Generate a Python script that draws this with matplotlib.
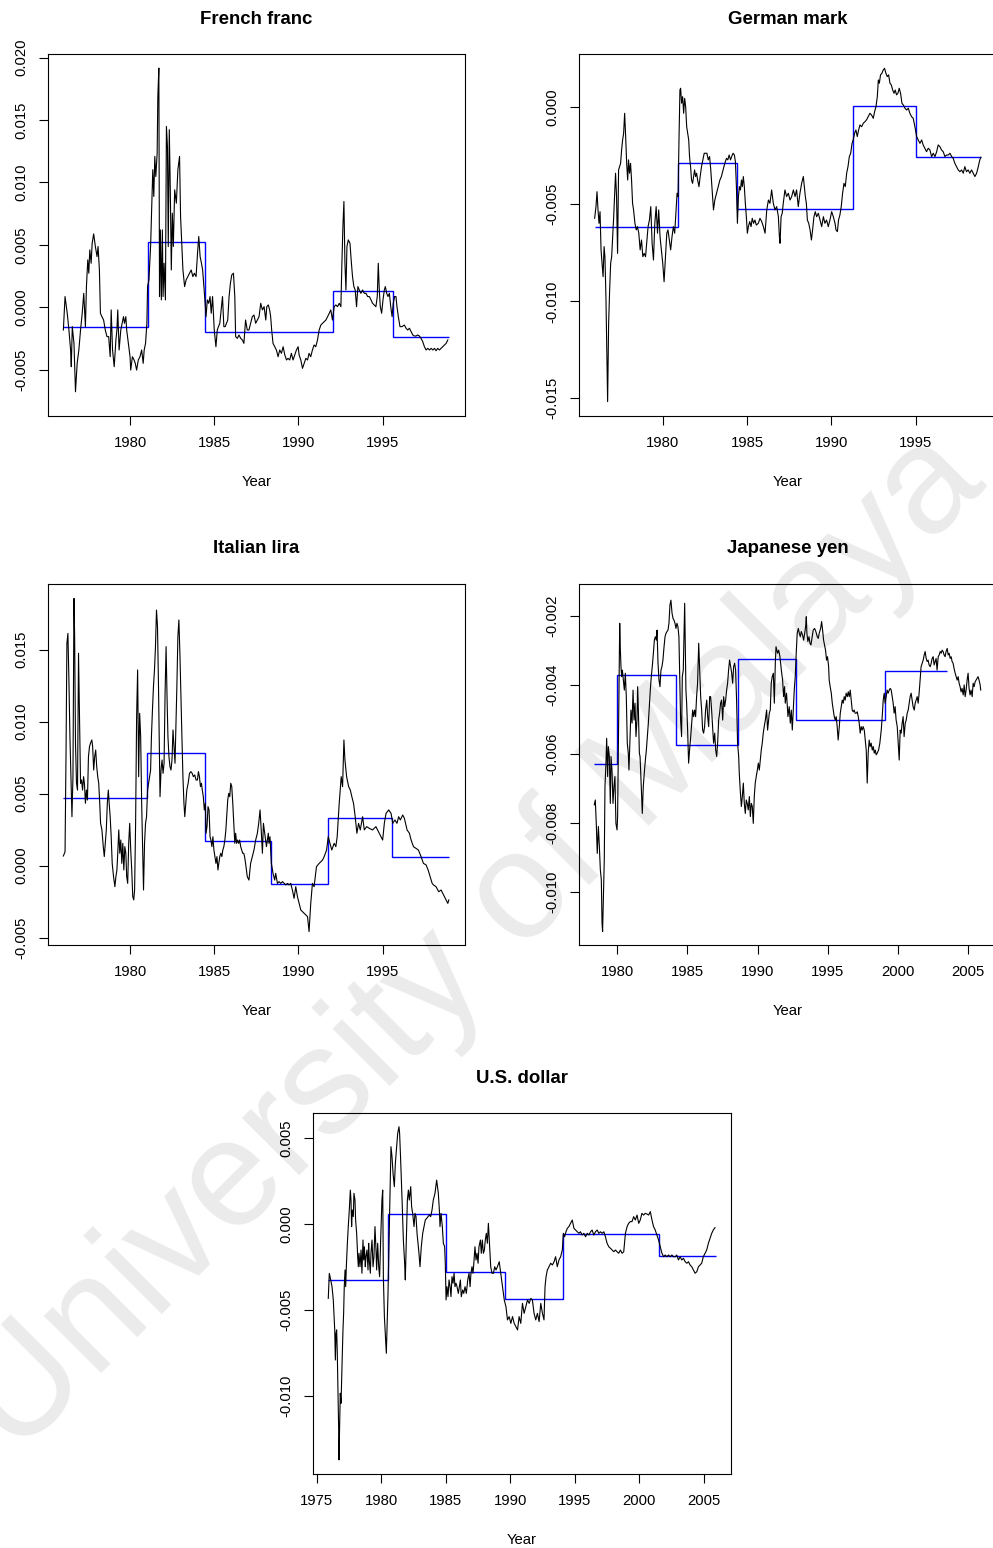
import numpy as np
import matplotlib
matplotlib.use("Agg")
import matplotlib.pyplot as plt

plt.rcParams['font.family'] = ['Liberation Sans', 'DejaVu Sans']
plt.rcParams['axes.unicode_minus'] = False

PERMIL = 1e-3  # series values below are given in units of 0.001

# ---------------- French franc ----------------
ff_year = [1976.04, 1976.14, 1976.27, 1976.37, 1976.47, 1976.51, 1976.57, 1976.67, 1976.76, 1976.86,
           1976.96, 1977.06, 1977.16, 1977.25, 1977.35, 1977.41, 1977.49, 1977.55, 1977.61, 1977.69,
           1977.75, 1977.84, 1977.94, 1978.04, 1978.10, 1978.18, 1978.24, 1978.33, 1978.43, 1978.53,
           1978.63, 1978.73, 1978.82, 1978.88, 1978.96, 1979.06, 1979.16, 1979.22, 1979.27, 1979.35,
           1979.45, 1979.53, 1979.61, 1979.67, 1979.75, 1979.80, 1979.90, 1980.00, 1980.04, 1980.14,
           1980.24, 1980.31, 1980.39, 1980.49, 1980.59, 1980.69, 1980.78, 1980.84, 1980.92, 1981.00,
           1981.04, 1981.12, 1981.22, 1981.27, 1981.35, 1981.41, 1981.47, 1981.53, 1981.61, 1981.65,
           1981.71, 1981.75, 1981.80, 1981.86, 1981.92, 1981.96, 1982.02, 1982.10, 1982.16, 1982.22,
           1982.27, 1982.33, 1982.39, 1982.45, 1982.51, 1982.57, 1982.65, 1982.75, 1982.84, 1982.94,
           1983.00, 1983.08, 1983.14, 1983.24, 1983.33, 1983.43, 1983.53, 1983.63, 1983.73, 1983.82,
           1983.92, 1984.02, 1984.08, 1984.16, 1984.24, 1984.31, 1984.37, 1984.43, 1984.51, 1984.59,
           1984.67, 1984.75, 1984.82, 1984.90, 1985.00, 1985.10, 1985.18, 1985.25, 1985.33, 1985.41,
           1985.49, 1985.57, 1985.65, 1985.73, 1985.80, 1985.88, 1985.96, 1986.04, 1986.14, 1986.22,
           1986.27, 1986.37, 1986.47, 1986.57, 1986.67, 1986.76, 1986.86, 1986.96,
           1987.06, 1987.16, 1987.26, 1987.36, 1987.46, 1987.56, 1987.66, 1987.76, 1987.86, 1987.96,
           1988.06, 1988.12, 1988.21, 1988.29, 1988.35, 1988.41, 1988.49, 1988.59, 1988.69, 1988.79,
           1988.89, 1988.99, 1989.09, 1989.19, 1989.29, 1989.38, 1989.48, 1989.58, 1989.68, 1989.78,
           1989.88, 1989.98, 1990.04, 1990.14, 1990.24, 1990.34, 1990.44, 1990.54, 1990.63, 1990.73,
           1990.83, 1990.93, 1991.03, 1991.13, 1991.23, 1991.33, 1991.43, 1991.53, 1991.63, 1991.73,
           1991.83, 1991.92, 1992.02, 1992.12, 1992.22, 1992.32, 1992.42, 1992.52, 1992.58, 1992.64,
           1992.70, 1992.76, 1992.82, 1992.88, 1992.96, 1993.06, 1993.13, 1993.21, 1993.29, 1993.37,
           1993.45, 1993.53, 1993.61, 1993.71, 1993.81, 1993.91, 1994.01, 1994.11, 1994.21, 1994.31,
           1994.40, 1994.50, 1994.60, 1994.68, 1994.74, 1994.80, 1994.86, 1994.94, 1995.02, 1995.10,
           1995.16, 1995.24, 1995.32, 1995.40, 1995.48, 1995.56, 1995.63, 1995.71, 1995.79, 1995.85,
           1995.93, 1996.03, 1996.15, 1996.29, 1996.39, 1996.49, 1996.59, 1996.69, 1996.79, 1996.88,
           1996.98, 1997.08, 1997.18, 1997.28, 1997.38, 1997.48, 1997.58, 1997.68, 1997.78, 1997.88,
           1997.98, 1998.08, 1998.17, 1998.27, 1998.37, 1998.47, 1998.57, 1998.67, 1998.77, 1998.87]
ff_value = [-1.82, 0.86, -0.48, -1.82, -3.42, -4.76, -1.55, -2.89, -6.77, -4.49,
            -3.42, -1.82, -0.48, 1.12, -1.55, 1.66, 3.80, 2.73, 4.60, 3.53,
            5.13, 5.88, 4.87, 4.06, 4.87, 2.99, -0.48, -0.75, -1.02, -1.82,
            -2.35, -2.35, -3.96, -0.21, -3.42, -4.76, -2.62, -1.82, -0.21, -3.42,
            -1.82, -1.28, -0.75, -1.28, -0.75, -1.82, -2.89, -3.96, -5.03, -3.96,
            -4.22, -4.49, -5.03, -4.22, -3.96, -3.42, -4.49, -3.42, -2.89, -1.28,
            1.66, 2.19, 4.87, 7.27, 11.02, 8.88, 12.09, 10.48, 12.35, 16.90,
            19.17, 0.86, 6.20, 0.59, 6.20, 0.86, 3.53, 0.59, 14.49, 12.89,
            4.87, 14.23, 9.41, 2.99, 7.54, 4.87, 9.41, 8.34, 11.02, 12.09,
            7.27, 4.87, 2.99, 1.66, 2.19, 2.46, 2.73, 2.99, 2.46, 2.73,
            2.46, 4.60, 5.67, 4.06, 3.53, 2.99, 1.93, 0.86, -0.75, 0.59,
            0.32, 0.86, -0.48, 0.86, -1.82, -3.16, -1.82, -1.55, -1.28, -0.21,
            0.86, -1.55, -1.55, -1.28, -1.02, 0.86, 1.93, 2.59, 2.73, 0.86,
            -2.35, -2.49, -2.22, -2.49, -2.62, -2.89, -1.02, -1.82,
            -1.82, -1.28, -0.75, -0.62, -1.28, -1.02, -0.75, 0.32, -0.21, 0.05,
            -1.02, 0.05, 0.19, -0.21, -0.75, -1.82, -2.89, -3.16, -3.42, -3.96,
            -3.42, -3.69, -3.16, -3.82, -4.22, -4.09, -4.22, -3.69, -4.22, -3.82,
            -3.42, -3.16, -3.82, -4.22, -4.89, -4.49, -4.09, -4.22, -3.69, -3.96,
            -3.42, -3.02, -3.16, -2.62, -1.82, -1.42, -1.28, -1.15, -1.02, -0.75,
            -0.48, -0.21, -1.02, 0.05, 0.19, 0.05, 0.32, 0.05, 3.53, 6.47,
            8.48, 3.53, 1.39, 4.87, 5.40, 5.13, 3.80, 2.46, 1.66, 1.39,
            0.05, 1.66, 1.39, 1.12, 1.39, 1.12, 1.12, 0.86, 0.86, 0.59,
            0.32, 0.19, 0.05, 0.86, 3.53, 1.39, 0.05, -0.48, 0.59, 1.39,
            1.66, 1.12, 0.86, 1.12, 0.05, -0.75, 0.32, 0.86, 0.86, 0.05,
            -0.75, -1.55, -1.55, -1.42, -1.68, -1.82, -1.68, -1.95, -2.22, -2.30,
            -2.30, -2.22, -2.30, -2.49, -2.75, -3.16, -3.42, -3.29, -3.42, -3.29,
            -3.42, -3.29, -3.48, -3.29, -3.42, -3.29, -3.16, -3.02, -2.89, -2.62]
ff_regime_edges = [1976.04, 1981.04, 1984.43, 1992.07, 1995.60, 1998.96]
ff_regime_mean = [-1.60, 5.21, -2.01, 1.34, -2.35]

# ---------------- German mark ----------------
gm_year = [1975.96, 1976.04, 1976.10, 1976.16, 1976.22, 1976.28, 1976.34, 1976.40, 1976.46, 1976.52,
           1976.57, 1976.63, 1976.69, 1976.73, 1976.79, 1976.85, 1976.91, 1976.97, 1977.03, 1977.09,
           1977.15, 1977.20, 1977.26, 1977.32, 1977.38, 1977.44, 1977.50, 1977.56, 1977.62, 1977.68,
           1977.74, 1977.80, 1977.86, 1977.92, 1977.97, 1978.03, 1978.09, 1978.15, 1978.21, 1978.27,
           1978.35, 1978.43, 1978.50, 1978.58, 1978.66, 1978.74, 1978.82, 1978.90, 1978.98, 1979.06,
           1979.13, 1979.21, 1979.29, 1979.37, 1979.45, 1979.53, 1979.61, 1979.69, 1979.76, 1979.84,
           1979.92, 1980.00, 1980.08, 1980.16, 1980.24, 1980.31, 1980.39, 1980.47, 1980.55, 1980.63,
           1980.71, 1980.79, 1980.85, 1980.91, 1980.96, 1981.02, 1981.06, 1981.12, 1981.18, 1981.24,
           1981.30, 1981.36, 1981.42, 1981.48, 1981.54, 1981.59, 1981.65, 1981.71, 1981.77, 1981.83,
           1981.89, 1981.95, 1982.01, 1982.07, 1982.15, 1982.22, 1982.30, 1982.38, 1982.46, 1982.54,
           1982.62, 1982.70, 1982.78, 1982.85, 1982.93, 1983.01, 1983.09, 1983.19, 1983.29, 1983.39,
           1983.48, 1983.58, 1983.68, 1983.78, 1983.86, 1983.94, 1984.02, 1984.09, 1984.17, 1984.25,
           1984.31, 1984.37, 1984.43, 1984.49, 1984.55, 1984.61, 1984.67, 1984.72, 1984.78, 1984.84,
           1984.90, 1984.96, 1985.02, 1985.08, 1985.16, 1985.24, 1985.31, 1985.39, 1985.47, 1985.55,
           1985.67, 1985.77, 1985.87, 1985.97, 1986.07, 1986.17, 1986.27, 1986.36, 1986.46, 1986.56,
           1986.66, 1986.76, 1986.86, 1986.92, 1986.96, 1987.02, 1987.09, 1987.15, 1987.25, 1987.35,
           1987.45, 1987.55, 1987.65, 1987.75, 1987.85, 1987.94, 1988.04, 1988.14, 1988.24, 1988.34,
           1988.40, 1988.46, 1988.52, 1988.58, 1988.66, 1988.74, 1988.82, 1988.89, 1988.97, 1989.05,
           1989.13, 1989.23, 1989.33, 1989.43, 1989.53, 1989.62, 1989.72, 1989.82, 1989.92, 1990.02,
           1990.12, 1990.22, 1990.28, 1990.36, 1990.43, 1990.51, 1990.59, 1990.67, 1990.75, 1990.83,
           1990.91, 1990.99, 1991.07, 1991.15, 1991.23, 1991.30, 1991.38, 1991.46, 1991.54, 1991.62,
           1991.70, 1991.80, 1991.90, 1992.00, 1992.09, 1992.19, 1992.29, 1992.39, 1992.49, 1992.57,
           1992.65, 1992.73, 1992.79, 1992.85, 1992.92, 1993.00, 1993.08, 1993.16, 1993.24, 1993.32,
           1993.40, 1993.48, 1993.56, 1993.64, 1993.72, 1993.79, 1993.87, 1993.95, 1994.03, 1994.11,
           1994.19, 1994.27, 1994.37, 1994.47, 1994.57, 1994.66, 1994.76, 1994.86, 1994.96, 1995.06,
           1995.16, 1995.26, 1995.36, 1995.45, 1995.55, 1995.65, 1995.75, 1995.85, 1995.95, 1996.05,
           1996.15, 1996.25, 1996.34, 1996.44, 1996.54, 1996.64, 1996.74, 1996.84, 1996.94, 1997.04,
           1997.14, 1997.23, 1997.33, 1997.43, 1997.53, 1997.63, 1997.73, 1997.83, 1997.92, 1998.02,
           1998.12, 1998.22, 1998.32, 1998.42, 1998.52, 1998.62, 1998.72, 1998.81, 1998.87]
gm_value = [-5.72, -5.12, -4.35, -5.29, -5.98, -5.38, -7.35, -8.04, -8.73, -7.18,
            -7.70, -9.76, -13.20, -15.17, -11.13, -9.42, -8.04, -7.70, -6.67, -5.64,
            -4.43, -3.40, -4.60, -7.53, -3.23, -3.06, -2.89, -2.20, -1.68, -1.34,
            -0.31, -1.51, -2.89, -3.75, -2.71, -3.40, -2.89, -3.75, -4.95, -5.29,
            -5.98, -6.32, -6.15, -6.49, -7.35, -6.84, -7.70, -7.53, -7.70, -6.84,
            -6.15, -5.81, -5.12, -7.01, -7.87, -5.98, -5.12, -6.49, -5.29, -6.67,
            -7.35, -8.04, -8.99, -7.70, -6.49, -6.32, -6.84, -7.35, -6.67, -6.15,
            -6.49, -5.29, -4.43, -4.60, -1.86, 0.89, 0.98, 0.21, 0.55, -0.31,
            0.46, 0.03, -1.00, -1.34, -1.68, -2.54, -3.06, -3.75, -3.92, -3.57,
            -3.23, -3.57, -3.40, -3.75, -4.09, -3.57, -3.06, -2.71, -2.37, -2.37,
            -2.37, -2.71, -2.54, -3.23, -4.26, -5.29, -4.78, -4.43, -4.09, -3.75,
            -3.57, -3.23, -2.89, -2.63, -2.71, -2.46, -2.71, -2.54, -2.37, -2.46,
            -2.80, -4.09, -5.98, -4.60, -4.09, -4.26, -3.75, -4.09, -3.57, -4.09,
            -4.95, -5.64, -6.49, -6.15, -5.89, -6.15, -5.72, -5.98, -5.81, -6.07,
            -5.98, -5.72, -5.89, -6.15, -6.49, -5.29, -4.78, -4.95, -4.26, -4.95,
            -5.29, -5.12, -5.64, -6.67, -7.01, -5.64, -5.46, -4.95, -4.26, -4.60,
            -4.43, -4.78, -4.60, -4.26, -4.60, -4.26, -5.12, -4.43, -3.92, -3.57,
            -4.09, -4.60, -4.95, -5.81, -5.98, -6.32, -6.84, -6.32, -5.64, -5.38,
            -5.64, -5.46, -5.81, -6.15, -5.64, -5.98, -5.81, -6.15, -5.81, -5.38,
            -5.64, -5.98, -6.32, -6.41, -5.81, -5.55, -5.12, -4.43, -3.92, -4.09,
            -3.40, -3.06, -2.54, -2.37, -1.86, -1.68, -1.34, -1.17, -1.51, -1.17,
            -0.91, -1.00, -0.82, -0.74, -0.65, -0.48, -0.31, -0.40, -0.57, -0.22,
            0.03, 0.55, 1.41, 1.24, 1.67, 1.75, 1.92, 2.01, 1.75, 1.58,
            1.67, 1.24, 1.15, 0.89, 0.72, 0.89, 0.64, 0.72, 0.98, 0.72,
            0.21, 0.12, -0.05, -0.14, -0.05, -0.31, -0.48, -0.57, -1.00, -1.51,
            -1.68, -1.86, -1.68, -1.94, -2.11, -2.29, -2.11, -2.20, -2.54, -2.37,
            -2.54, -2.29, -1.94, -2.03, -2.20, -2.29, -2.54, -2.46, -2.46, -2.37,
            -2.54, -2.63, -2.89, -3.06, -3.23, -3.32, -3.23, -3.40, -3.06, -3.32,
            -3.23, -3.40, -3.23, -3.40, -3.57, -3.40, -3.06, -2.71, -2.58]
gm_regime_edges = [1975.96, 1980.93, 1984.41, 1991.26, 1995.00, 1998.91]
gm_regime_mean = [-6.19, -2.85, -5.26, 0.09, -2.58]

# ---------------- Italian lira ----------------
il_year = [1976.04, 1976.14, 1976.20, 1976.25, 1976.31, 1976.37, 1976.43, 1976.49, 1976.55, 1976.61,
           1976.67, 1976.71, 1976.76, 1976.82, 1976.88, 1976.94, 1977.00, 1977.06, 1977.12, 1977.18,
           1977.24, 1977.29, 1977.35, 1977.41, 1977.47, 1977.53, 1977.59, 1977.65, 1977.73, 1977.78,
           1977.84, 1977.90, 1977.96, 1978.02, 1978.08, 1978.14, 1978.20, 1978.25, 1978.33, 1978.41,
           1978.47, 1978.53, 1978.59, 1978.65, 1978.71, 1978.76, 1978.82, 1978.88, 1978.94, 1979.02,
           1979.10, 1979.16, 1979.22, 1979.27, 1979.33, 1979.39, 1979.45, 1979.51, 1979.57, 1979.63,
           1979.69, 1979.75, 1979.80, 1979.86, 1979.92, 1979.98, 1980.04, 1980.10, 1980.16, 1980.22,
           1980.27, 1980.33, 1980.39, 1980.45, 1980.51, 1980.57, 1980.63, 1980.69, 1980.75, 1980.80,
           1980.86, 1980.92, 1980.98, 1981.04, 1981.10, 1981.16, 1981.22, 1981.27, 1981.33, 1981.39,
           1981.45, 1981.51, 1981.57, 1981.63, 1981.69, 1981.75, 1981.78, 1981.84, 1981.90, 1981.96,
           1982.02, 1982.08, 1982.14, 1982.20, 1982.25, 1982.31, 1982.37, 1982.43, 1982.49, 1982.55,
           1982.61, 1982.67, 1982.73, 1982.78, 1982.84, 1982.90, 1982.96, 1983.02, 1983.08, 1983.14,
           1983.20, 1983.25, 1983.31, 1983.37, 1983.45, 1983.53, 1983.61, 1983.69, 1983.76, 1983.84,
           1983.92, 1984.00, 1984.06, 1984.12, 1984.18, 1984.24, 1984.29, 1984.35, 1984.41, 1984.47,
           1984.51, 1984.57, 1984.63, 1984.69, 1984.75, 1984.80, 1984.86, 1984.92, 1984.98, 1985.04,
           1985.10, 1985.16, 1985.22, 1985.27, 1985.33, 1985.39, 1985.45, 1985.51, 1985.57, 1985.63,
           1985.69, 1985.75, 1985.80, 1985.86, 1985.92, 1985.98, 1986.04, 1986.10, 1986.16, 1986.22,
           1986.27, 1986.33, 1986.39, 1986.45, 1986.51, 1986.57, 1986.63, 1986.69, 1986.75, 1986.80,
           1986.86, 1986.96,
           1987.06, 1987.16, 1987.26, 1987.36, 1987.46, 1987.56, 1987.64, 1987.72, 1987.80, 1987.86,
           1987.92, 1988.02, 1988.10, 1988.21, 1988.25, 1988.31, 1988.39, 1988.49, 1988.59, 1988.65,
           1988.75, 1988.85, 1988.95, 1989.05, 1989.15, 1989.25, 1989.35, 1989.44, 1989.54, 1989.64,
           1989.74, 1989.84, 1989.94, 1990.04, 1990.14, 1990.24, 1990.34, 1990.44, 1990.54, 1990.63,
           1990.73, 1990.83, 1990.93, 1991.07, 1991.23, 1991.43, 1991.53, 1991.67, 1991.77, 1991.87,
           1991.98, 1992.12, 1992.22, 1992.30, 1992.42, 1992.54, 1992.62, 1992.70, 1992.76, 1992.86,
           1992.98, 1993.08, 1993.17, 1993.27, 1993.37, 1993.47, 1993.57, 1993.67, 1993.81, 1993.91,
           1994.05, 1994.21, 1994.40, 1994.60, 1994.80, 1995.00, 1995.10, 1995.20, 1995.36, 1995.50,
           1995.60, 1995.73, 1995.85, 1995.95, 1996.05, 1996.19, 1996.29, 1996.45, 1996.59, 1996.69,
           1996.83, 1996.98, 1997.12, 1997.28, 1997.42, 1997.58, 1997.70, 1997.82, 1997.94, 1998.02,
           1998.17, 1998.33, 1998.47, 1998.67, 1998.87, 1998.93]
il_value = [0.67, 0.97, 8.03, 15.44, 16.13, 12.89, 8.96, 6.18, 3.40, 6.18,
            18.56, 15.90, 8.50, 5.72, 5.25, 14.75, 10.12, 5.72, 5.95, 5.25,
            6.18, 5.72, 4.33, 5.25, 4.56, 7.57, 8.26, 8.50, 8.73, 8.26,
            6.64, 7.57, 8.03, 6.88, 6.18, 5.72, 4.33, 2.94, 2.48, 1.32,
            0.63, 1.55, 2.48, 4.33, 5.25, 4.33, 3.40, 2.01, 0.16, -0.76,
            -1.46, -0.76, -0.30, 0.86, 2.48, 0.86, 1.78, 0.16, 1.55, -0.30,
            1.32, 0.86, -0.76, -1.23, 1.55, 2.94, 1.09, -0.30, -2.15, -2.38,
            -1.69, 2.94, 10.35, 13.59, 6.18, 10.58, 8.96, 4.33, 0.86, -1.69,
            1.55, 2.94, 3.40, 5.25, 5.72, 6.18, 6.64, 8.96, 10.81, 12.43,
            13.59, 15.21, 17.75, 16.60, 12.43, 7.57, 4.79, 6.64, 7.34, 6.41,
            7.11, 11.97, 15.21, 11.50, 8.96, 7.57, 6.88, 6.64, 7.34, 9.42,
            8.26, 7.11, 9.88, 12.43, 15.90, 17.06, 14.75, 11.74, 8.96, 6.18,
            4.33, 3.40, 4.33, 5.25, 5.72, 6.41, 6.53, 6.41, 6.18, 6.30,
            5.95, 5.95, 6.53, 6.18, 5.49, 5.72, 5.25, 4.79, 3.87, 4.33,
            2.25, 2.71, 4.10, 3.87, 2.01, 1.78, 1.32, 2.01, 1.09, 0.63,
            0.16, 0.63, -0.30, 0.16, 0.63, 0.86, 0.63, 1.09, 1.32, 1.78,
            2.48, 3.63, 4.56, 5.02, 4.79, 5.72, 5.49, 4.33, 2.94, 1.55,
            2.25, 1.55, 1.78, 1.55, 1.78, 1.32, 1.09, 0.86, 0.86, 0.63,
            0.16, -0.76,
            -1.00, 0.16, 0.63, 1.09, 1.78, 2.25, 2.94, 3.87, 2.25, 0.86,
            2.94, 2.01, 1.32, 2.25, 1.55, 2.01, 0.16, -0.53, -1.00, -0.53,
            -1.23, -1.11, -1.23, -1.11, -1.23, -1.34, -1.23, -1.34, -1.23, -1.69,
            -2.27, -1.46, -2.15, -2.62, -3.08, -3.19, -3.31, -3.43, -3.54, -4.58,
            -2.62, -1.23, -1.46, -0.07, 0.16, 0.39, 0.63, 1.09, 2.01, 1.55,
            1.09, 1.55, 1.32, 2.01, 4.33, 6.18, 5.49, 8.73, 7.34, 6.18,
            5.49, 5.25, 4.79, 4.33, 3.40, 2.25, 2.94, 2.48, 3.40, 2.48,
            2.71, 2.59, 2.48, 2.71, 2.25, 1.78, 2.94, 3.63, 3.87, 3.63,
            2.94, 3.17, 2.94, 3.40, 3.17, 3.52, 3.29, 2.48, 2.25, 1.78,
            1.32, 1.20, 1.09, 0.63, 0.16, 0.05, -0.30, -0.76, -1.23, -1.34,
            -1.46, -1.81, -1.69, -2.15, -2.62, -2.38]
il_regime_edges = [1976.04, 1981.02, 1984.43, 1988.35, 1991.77, 1995.56, 1998.93]
il_regime_mean = [4.68, 7.80, 1.74, -1.30, 3.29, 0.63]

# ---------------- Japanese yen ----------------
jy_year = [1978.36, 1978.43, 1978.50, 1978.57, 1978.65, 1978.72, 1978.79, 1978.86, 1978.91, 1978.95,
           1979.03, 1979.07, 1979.12, 1979.19, 1979.24, 1979.31, 1979.36, 1979.43, 1979.50, 1979.55,
           1979.62, 1979.69, 1979.76, 1979.83, 1979.90, 1979.98, 1980.02, 1980.07, 1980.12, 1980.17,
           1980.21, 1980.26, 1980.31, 1980.36, 1980.43, 1980.50, 1980.57, 1980.64, 1980.71, 1980.78,
           1980.83, 1980.90, 1980.97, 1981.05, 1981.12, 1981.19, 1981.26, 1981.33, 1981.40, 1981.45,
           1981.50, 1981.57, 1981.62, 1981.66, 1981.73, 1981.78, 1981.85, 1981.92, 1982.00, 1982.07,
           1982.14, 1982.21, 1982.28, 1982.35, 1982.42, 1982.49, 1982.57, 1982.64, 1982.71, 1982.78,
           1982.83, 1982.90, 1982.97, 1983.04, 1983.11, 1983.18, 1983.25, 1983.33, 1983.40, 1983.47,
           1983.54, 1983.61, 1983.68, 1983.75, 1983.82, 1983.90, 1983.97, 1984.04, 1984.11, 1984.18,
           1984.25, 1984.32, 1984.39, 1984.47, 1984.51, 1984.58, 1984.63, 1984.70, 1984.75, 1984.80,
           1984.85, 1984.89, 1984.94, 1985.01, 1985.08, 1985.15, 1985.23, 1985.30, 1985.37, 1985.44,
           1985.51, 1985.58, 1985.65, 1985.72, 1985.80, 1985.87, 1985.94, 1986.01, 1986.08, 1986.15,
           1986.22, 1986.29, 1986.37, 1986.44, 1986.51, 1986.58, 1986.65, 1986.72, 1986.79, 1986.86,
           1986.94, 1987.01, 1987.08, 1987.15, 1987.22, 1987.29, 1987.36, 1987.43, 1987.51, 1987.58,
           1987.65, 1987.72, 1987.79, 1987.86, 1987.93, 1988.00, 1988.08, 1988.15, 1988.22, 1988.29,
           1988.36, 1988.43, 1988.50, 1988.57, 1988.65, 1988.69, 1988.76, 1988.84, 1988.91, 1988.98,
           1989.05, 1989.12, 1989.19, 1989.26, 1989.33, 1989.41, 1989.48, 1989.55, 1989.62, 1989.69,
           1989.76, 1989.83, 1989.90, 1989.98, 1990.05, 1990.12, 1990.19, 1990.26, 1990.33, 1990.40,
           1990.47, 1990.55, 1990.64,
           1990.71, 1990.83, 1990.90, 1990.97, 1991.04, 1991.12, 1991.19, 1991.26, 1991.31, 1991.42,
           1991.50, 1991.59, 1991.69, 1991.78, 1991.85, 1991.92, 1991.97, 1992.06, 1992.16, 1992.25,
           1992.33, 1992.40, 1992.47, 1992.54, 1992.61, 1992.68, 1992.75, 1992.82, 1992.90, 1992.97,
           1993.04, 1993.11, 1993.20, 1993.28, 1993.35, 1993.42, 1993.47, 1993.51, 1993.58, 1993.66,
           1993.73, 1993.80, 1993.87, 1993.96, 1994.06, 1994.15, 1994.25, 1994.32, 1994.39, 1994.49,
           1994.56, 1994.63, 1994.70, 1994.77, 1994.84, 1994.91, 1994.98, 1995.06, 1995.10, 1995.17,
           1995.25, 1995.32, 1995.39, 1995.46, 1995.53, 1995.60, 1995.67, 1995.74, 1995.82, 1995.89,
           1995.96, 1996.03, 1996.10, 1996.17, 1996.24, 1996.31, 1996.39, 1996.46, 1996.53, 1996.60,
           1996.67, 1996.74, 1996.81, 1996.88, 1996.95, 1997.03, 1997.10, 1997.17, 1997.24, 1997.31,
           1997.38, 1997.45, 1997.52, 1997.60, 1997.67, 1997.74, 1997.81, 1997.88, 1997.95, 1998.02,
           1998.09, 1998.17, 1998.24, 1998.31, 1998.38, 1998.45, 1998.52, 1998.62, 1998.71, 1998.81,
           1998.88, 1998.95, 1999.02, 1999.09, 1999.16, 1999.23, 1999.30, 1999.38, 1999.45, 1999.52,
           1999.59, 1999.66, 1999.73, 1999.80, 1999.87, 1999.95, 2000.02, 2000.09, 2000.16, 2000.23,
           2000.30, 2000.37, 2000.44, 2000.52, 2000.59, 2000.66, 2000.73, 2000.80, 2000.87, 2000.94,
           2001.01, 2001.08, 2001.16, 2001.23, 2001.30, 2001.37, 2001.44, 2001.51, 2001.58, 2001.65,
           2001.73, 2001.80, 2001.87, 2001.94, 2002.01, 2002.08, 2002.15, 2002.22, 2002.30, 2002.37,
           2002.44, 2002.51, 2002.58, 2002.65, 2002.72, 2002.79, 2002.87, 2002.94, 2003.01, 2003.08,
           2003.15, 2003.22, 2003.29, 2003.36, 2003.43, 2003.51, 2003.58, 2003.65, 2003.72, 2003.79,
           2003.86, 2003.93, 2004.00, 2004.08, 2004.15, 2004.22, 2004.29, 2004.36, 2004.43, 2004.50,
           2004.57, 2004.65, 2004.72, 2004.79, 2004.86, 2004.93, 2005.00, 2005.07, 2005.14, 2005.21,
           2005.29, 2005.36, 2005.43, 2005.50, 2005.57, 2005.64, 2005.71, 2005.78, 2005.86, 2005.90]
jy_value = [-7.48, -7.34, -8.02, -8.89, -8.11, -8.69, -9.37, -9.66, -10.92, -11.16,
            -9.76, -9.08, -6.95, -6.27, -5.55, -6.66, -5.79, -6.08, -7.44, -6.08,
            -6.47, -7.44, -6.95, -6.66, -8.02, -8.21, -7.82, -5.98, -4.05, -2.21,
            -2.89, -3.47, -3.76, -3.57, -3.86, -4.15, -3.66, -4.34, -5.69, -5.98,
            -6.47, -5.60, -4.73, -5.11, -4.15, -5.02, -4.53, -5.50, -5.02, -4.05,
            -4.73, -5.98, -6.08, -6.47, -7.24, -7.73, -6.95, -6.56, -6.18, -5.89,
            -5.50, -5.11, -4.63, -4.15, -3.76, -3.47, -3.08, -2.70, -2.60, -2.70,
            -2.41, -3.37, -3.86, -4.05, -3.57, -3.47, -3.28, -2.89, -2.60, -2.50,
            -2.45, -2.41, -2.21, -1.68, -1.54, -1.92, -2.07, -2.12, -2.21, -2.36,
            -2.21, -2.31, -2.60, -4.15, -5.02, -5.50, -3.76, -3.57, -2.60, -1.63,
            -3.08, -4.15, -4.53, -5.31, -6.27, -5.89, -5.50, -5.11, -4.73, -4.92,
            -4.73, -4.92, -4.34, -3.95, -2.79, -3.57, -4.34, -4.73, -5.31, -5.40,
            -5.21, -4.73, -4.44, -4.92, -5.21, -4.34, -4.34, -4.73, -5.21, -5.69,
            -5.40, -5.89, -6.08, -5.69, -5.02, -4.82, -4.53, -4.44, -5.02, -4.34,
            -4.63, -4.44, -4.15, -3.95, -3.57, -3.28, -3.47, -3.66, -3.95, -3.47,
            -3.37, -3.57, -4.44, -5.69, -6.08, -6.56, -7.05, -7.53, -7.24, -6.85,
            -7.44, -7.73, -7.34, -7.44, -7.63, -7.24, -7.82, -7.44, -7.53, -8.02,
            -7.24, -6.85, -6.66, -6.47, -6.27, -6.47, -6.18, -5.89, -5.69, -5.40,
            -5.21, -5.02, -4.73,
            -5.31, -4.82, -4.73, -3.95, -3.76, -3.66, -4.53, -3.37, -2.89, -3.08,
            -2.99, -3.18, -3.57, -3.86, -4.34, -4.05, -4.53, -4.24, -4.92, -4.63,
            -5.11, -4.73, -5.31, -4.73, -4.15, -3.76, -3.08, -2.50, -2.36, -2.50,
            -2.60, -2.45, -2.55, -2.70, -2.50, -2.31, -2.02, -2.50, -2.74, -2.60,
            -2.79, -2.84, -2.65, -2.41, -2.36, -2.45, -2.60, -2.65, -2.50, -2.36,
            -2.16, -2.41, -2.70, -2.84, -2.99, -3.28, -3.18, -3.47, -3.86, -4.05,
            -4.24, -4.53, -4.73, -4.92, -5.02, -4.92, -5.21, -5.60, -5.21, -4.82,
            -4.63, -4.44, -4.53, -4.34, -4.44, -4.24, -4.34, -4.20, -4.34, -4.15,
            -4.44, -4.73, -4.78, -4.73, -4.82, -4.82, -4.78, -4.92, -5.11, -5.40,
            -5.21, -5.31, -5.21, -5.31, -5.60, -5.89, -6.85, -5.98, -5.60, -5.79,
            -5.69, -5.89, -5.79, -5.98, -5.89, -6.03, -5.98, -5.89, -5.69, -5.31,
            -4.92, -4.44, -4.24, -4.53, -4.34, -4.15, -4.24, -4.15, -4.10, -4.15,
            -4.34, -4.53, -4.82, -4.63, -5.02, -5.21, -5.69, -6.18, -5.31, -5.40,
            -5.11, -4.92, -5.50, -5.11, -5.02, -4.82, -4.73, -4.53, -4.34, -4.24,
            -4.44, -4.63, -4.73, -4.53, -4.44, -4.34, -4.53, -4.24, -3.86, -3.47,
            -3.37, -3.28, -3.13, -3.03, -3.23, -3.32, -3.28, -3.42, -3.47, -3.37,
            -3.23, -3.18, -3.42, -3.32, -3.23, -3.57, -3.18, -3.13, -3.03, -3.08,
            -2.99, -3.03, -3.13, -3.18, -3.03, -2.94, -3.13, -3.08, -3.23, -3.18,
            -3.32, -3.37, -3.52, -3.66, -3.76, -3.86, -3.76, -3.95, -4.05, -4.20,
            -4.10, -4.29, -4.00, -4.34, -4.15, -3.86, -3.66, -4.10, -4.29, -4.15,
            -4.34, -3.95, -4.05, -3.91, -3.86, -3.81, -3.76, -3.86, -4.00, -4.15]
jy_regime_edges = [1978.36, 1980.00, 1984.18, 1988.60, 1992.73, 1999.09, 2003.53]
jy_regime_mean = [-6.30, -3.72, -5.75, -3.25, -5.01, -3.60]

# ---------------- U.S. dollar ----------------
us_year = [1975.90, 1975.98, 1976.09, 1976.19, 1976.29, 1976.34, 1976.40, 1976.45, 1976.50, 1976.55,
           1976.60, 1976.65, 1976.71, 1976.73, 1976.78, 1976.83, 1976.89, 1976.94, 1976.99, 1977.04,
           1977.09, 1977.14, 1977.20, 1977.25, 1977.30, 1977.38, 1977.45, 1977.53, 1977.61, 1977.66,
           1977.71, 1977.76, 1977.84, 1977.89, 1977.97, 1978.02, 1978.10, 1978.18, 1978.23, 1978.28,
           1978.36, 1978.44, 1978.51, 1978.59, 1978.64, 1978.70, 1978.77, 1978.82, 1978.90, 1978.98,
           1979.03, 1979.08, 1979.16, 1979.21, 1979.29, 1979.37, 1979.44, 1979.52, 1979.60, 1979.65,
           1979.73, 1979.81, 1979.88, 1979.96, 1980.06, 1980.12, 1980.17, 1980.25, 1980.32, 1980.40,
           1980.45, 1980.53, 1980.61, 1980.68, 1980.76, 1980.84, 1980.92, 1981.02, 1981.10, 1981.18,
           1981.28, 1981.38, 1981.43, 1981.51, 1981.62, 1981.72, 1981.82, 1981.87, 1981.95, 1982.03,
           1982.11, 1982.18, 1982.29, 1982.36, 1982.44, 1982.55, 1982.62, 1982.70, 1982.78, 1982.93,
           1983.01, 1983.11, 1983.22, 1983.32, 1983.42, 1983.53, 1983.63, 1983.73, 1983.84, 1983.94,
           1984.04, 1984.17, 1984.30, 1984.43, 1984.51, 1984.56, 1984.64, 1984.74, 1984.82, 1984.92,
           1984.97, 1985.03, 1985.10, 1985.18, 1985.26, 1985.34, 1985.41, 1985.49, 1985.57, 1985.65,
           1985.72, 1985.80, 1985.88, 1985.98, 1986.06, 1986.14, 1986.21, 1986.32, 1986.40, 1986.50,
           1986.60, 1986.71, 1986.81, 1986.89, 1986.96, 1987.04, 1987.12, 1987.20, 1987.27, 1987.35,
           1987.43, 1987.51, 1987.58, 1987.69, 1987.76, 1987.84, 1987.92, 1988.00, 1988.07, 1988.15,
           1988.23, 1988.31, 1988.39, 1988.49, 1988.59, 1988.70, 1988.80, 1988.90, 1989.01,
           1989.15, 1989.41, 1989.54, 1989.67, 1989.79, 1989.92, 1990.05, 1990.18, 1990.31, 1990.44,
           1990.57, 1990.69, 1990.82, 1990.95, 1991.08, 1991.21, 1991.34, 1991.47, 1991.60, 1991.72,
           1991.85, 1991.98, 1992.11, 1992.24, 1992.37, 1992.50, 1992.62, 1992.70, 1992.78, 1992.88,
           1993.01, 1993.14, 1993.27, 1993.40, 1993.52, 1993.65, 1993.78, 1993.91, 1994.04, 1994.12,
           1994.22, 1994.32, 1994.43, 1994.55, 1994.68, 1994.81, 1994.94, 1995.07, 1995.20, 1995.33,
           1995.45, 1995.58, 1995.71, 1995.84, 1995.97, 1996.10, 1996.23, 1996.35, 1996.48, 1996.61,
           1996.74, 1996.87, 1997.00, 1997.13, 1997.26, 1997.38, 1997.51, 1997.64, 1997.77, 1997.90,
           1998.03, 1998.16, 1998.28, 1998.41, 1998.54, 1998.67, 1998.80, 1998.93, 1999.06, 1999.18,
           1999.31, 1999.44, 1999.57, 1999.70, 1999.83, 1999.96, 2000.08, 2000.21, 2000.34, 2000.47,
           2000.60, 2000.73, 2000.86, 2000.99, 2001.11, 2001.24, 2001.37, 2001.50, 2001.63, 2001.76,
           2001.89, 2002.01, 2002.14, 2002.27, 2002.40, 2002.53, 2002.66, 2002.79, 2002.91, 2003.04,
           2003.17, 2003.30, 2003.43, 2003.56, 2003.69, 2003.82, 2003.94, 2004.07, 2004.20, 2004.33,
           2004.46, 2004.59, 2004.72, 2004.84, 2004.97, 2005.10, 2005.23, 2005.36, 2005.49, 2005.62,
           2005.74, 2005.87]
us_value = [-4.32, -2.87, -3.25, -3.64, -4.41, -5.19, -6.15, -7.90, -6.35, -6.15,
            -7.51, -9.64, -12.15, -13.70, -11.77, -9.83, -10.41, -8.86, -7.51, -6.15,
            -5.19, -3.64, -2.67, -3.64, -2.48, -1.12, -0.15, 0.81, 1.97, 1.39,
            -0.15, 0.81, 0.43, 1.78, 1.39, 0.23, -0.54, -1.90, -2.48, -1.70,
            -2.48, -1.51, -2.86, -0.93, -2.09, -1.32, -2.48, -1.90, -1.51, -2.67,
            -1.12, -2.09, -2.86, -1.70, -0.93, -2.48, -1.90, -0.15, -1.51, -2.67,
            -1.12, -2.48, -3.06, -0.93, 1.39, 1.97, -3.06, -5.38, -6.35, -7.51,
            -6.15, -4.03, -0.93, 1.59, 4.49, 3.91, 2.94, 2.17, 3.52, 4.30,
            5.26, 5.65, 5.26, 3.72, 1.39, -0.93, -2.28, -3.25, -0.93, 1.39,
            1.97, 1.39, 2.17, 1.01, 0.62, -0.15, 0.62, 0.43, -0.54, -1.70,
            -2.48, -1.32, -0.54, -0.15, 0.23, 0.33, 0.43, 0.52, 0.43, 0.81,
            1.39, 1.78, 2.55, 1.78, 0.81, -0.15, 0.62, -0.15, -1.12, -1.32,
            -2.28, -4.41, -3.64, -4.22, -3.25, -3.64, -4.22, -3.06, -3.44, -2.86,
            -3.64, -3.44, -3.64, -4.03, -3.64, -3.25, -4.22, -3.83, -4.03, -3.64,
            -4.03, -3.25, -2.86, -3.64, -2.86, -2.48, -2.86, -2.09, -1.32, -2.09,
            -1.70, -2.28, -1.32, -0.93, -1.70, -0.93, -1.70, -1.51, -0.93, -0.54,
            -1.12, 0.04, -1.12, -2.48, -2.86, -2.86, -2.48, -2.67, -2.48,
            -2.19, -3.64, -4.41, -4.80, -5.57, -5.38, -5.77, -5.38, -5.77, -5.96,
            -6.15, -5.38, -5.77, -4.61, -5.19, -4.80, -4.41, -4.61, -4.32, -4.41,
            -5.19, -5.57, -5.19, -5.67, -4.61, -5.19, -5.57, -3.64, -3.06, -2.67,
            -2.48, -2.28, -2.38, -2.19, -1.90, -2.48, -2.09, -1.90, -1.51, -0.54,
            -0.74, -0.45, -0.25, -0.15, 0.04, 0.23, -0.25, -0.35, -0.45, -0.54,
            -0.45, -0.64, -0.54, -0.74, -0.54, -0.64, -0.45, -0.35, -0.64, -0.45,
            -0.35, -0.54, -0.45, -0.54, -0.45, -0.74, -1.12, -1.32, -1.41, -1.51,
            -1.61, -1.51, -1.61, -1.70, -1.51, -1.70, -1.61, -0.54, -0.15, 0.04,
            0.14, 0.14, 0.43, 0.23, 0.52, 0.04, 0.23, 0.62, 0.52, 0.62,
            0.58, 0.52, 0.72, 0.23, -0.15, -0.35, -0.64, -0.93, -1.32, -1.70,
            -1.90, -1.80, -1.90, -1.80, -1.90, -1.80, -1.90, -1.90, -1.80, -2.09,
            -1.90, -2.09, -1.99, -2.19, -2.28, -2.19, -2.38, -2.48, -2.67, -2.86,
            -2.77, -2.48, -2.38, -2.28, -1.90, -1.70, -1.51, -1.12, -0.83, -0.54,
            -0.35, -0.21]
us_regime_edges = [1975.90, 1980.50, 1985.00, 1989.61, 1994.09, 2001.50, 2005.95]
us_regime_mean = [-3.25, 0.56, -2.81, -4.35, -0.58, -1.86]

titles = ["French franc", "German mark", "Italian lira", "Japanese yen", "U.S. dollar"]

fig = plt.figure(figsize=(9.93, 15.48), dpi=100)
fig.patch.set_facecolor('white')

fig.text(0.478, 1 - 945 / 1548, "University of Malaya", rotation=45, rotation_mode='anchor',
         fontsize=110, color='#ebebeb', ha='center', va='center', zorder=-10,
         family=['Liberation Sans', 'DejaVu Sans'])


def rect(l, r, t, b):
    return [l / 993, 1 - b / 1548, (r - l) / 993, (b - t) / 1548]


def panel(box, title, year, value, edges, means, xlim, ylim, xticks, yticks):
    ax = fig.add_axes(box)
    ax.set_facecolor('none')
    ax.plot(year, np.asarray(value) * PERMIL, color='black', lw=0.8)
    ax.stairs(np.asarray(means) * PERMIL, edges, baseline=None, color='blue', lw=1.0)
    ax.set_xlim(*xlim)
    ax.set_ylim(*ylim)
    ax.set_xticks(xticks)
    ax.set_xticklabels([str(t) for t in xticks])
    ax.set_yticks(yticks)
    ax.set_yticklabels([("%.3f" % t) if abs(t) > 1e-12 else "0.000" for t in yticks],
                       rotation=90, va='center')
    ax.tick_params(direction='out', length=6.5, width=0.8, labelsize=10.7, pad=8,
                   color='black', labelcolor='black')
    ax.tick_params(axis='y', pad=7.5)
    for s in ax.spines.values():
        s.set_linewidth(0.8)
    ax.set_title(title, fontsize=13.4, fontweight='bold', pad=22)
    ax.set_xlabel("Year", fontsize=10.7, labelpad=18)
    return ax


panel(rect(47.7, 465, 54.3, 416), titles[0], ff_year, ff_value, ff_regime_edges, ff_regime_mean,
      (1975.11, 1999.89), (-0.00871, 0.02027), [1980, 1985, 1990, 1995],
      [-0.005, 0.0, 0.005, 0.010, 0.015, 0.020])
panel(rect(579.3, 997, 54.3, 416), titles[1], gm_year, gm_value, gm_regime_edges, gm_regime_mean,
      (1975.05, 1999.83), (-0.01591, 0.00273), [1980, 1985, 1990, 1995],
      [-0.015, -0.010, -0.005, 0.0])
panel(rect(47.7, 465, 584, 945), titles[2], il_year, il_value, il_regime_edges, il_regime_mean,
      (1975.11, 1999.89), (-0.00551, 0.01956), [1980, 1985, 1990, 1995],
      [-0.005, 0.0, 0.005, 0.010, 0.015])
panel(rect(579.3, 997, 584, 945), titles[3], jy_year, jy_value, jy_regime_edges, jy_regime_mean,
      (1977.29, 2007.06), (-0.01155, -0.00107), [1980, 1985, 1990, 1995, 2000, 2005],
      [-0.010, -0.008, -0.006, -0.004, -0.002])
panel(rect(313.3, 730.7, 1113.3, 1474), titles[4], us_year, us_value, us_regime_edges, us_regime_mean,
      (1974.74, 2007.09), (-0.01452, 0.00643), [1975, 1980, 1985, 1990, 1995, 2000, 2005],
      [-0.010, -0.005, 0.0, 0.005])

fig.savefig("out.png", dpi=100)
